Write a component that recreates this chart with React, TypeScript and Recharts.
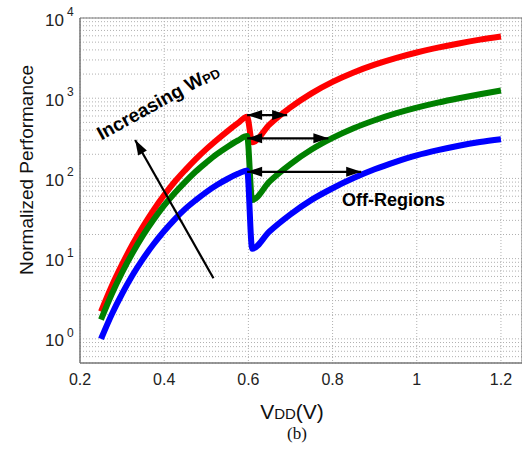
import React from 'react';
import { LineChart, Line, XAxis, YAxis, CartesianGrid, ReferenceLine, ReferenceDot, ReferenceArea } from 'recharts';

// V_DD sample points (V): before and after the off-region drop near 0.6 V
const vddPre = [0.25, 0.275, 0.3, 0.325, 0.35, 0.375, 0.4, 0.425, 0.45, 0.475, 0.5, 0.525, 0.55, 0.575, 0.597];
const vddPost = [0.609, 0.65, 0.7, 0.75, 0.8, 0.85, 0.9, 0.95, 1.0, 1.05, 1.1, 1.15, 1.2];

// Normalized performance (largest W_PD = red, middle = green, smallest = blue)
const redPre = [2.19, 4.5, 8.47, 15.1, 25.3, 40.6, 62.1, 90.8, 127, 174, 232, 302, 387, 488, 589];
const redPost = [282, 469, 769, 1151, 1598, 2094, 2618, 3162, 3715, 4266, 4819, 5370, 5888];
const greenPre = [1.74, 3.57, 6.72, 11.8, 19.6, 30.7, 46.0, 65.7, 90.7, 122, 158, 201, 247, 297, 337];
const greenPost = [53.7, 91.2, 151, 229, 320, 422, 531, 646, 763, 881, 1000, 1122, 1245];
const bluePre = [1.0, 2.0, 3.65, 6.24, 10.0, 15.2, 22.1, 30.9, 41.7, 53.7, 67.6, 82.7, 98.3, 114, 126];
const bluePost = [13.3, 21.8, 35.7, 54.1, 75.5, 101, 130, 161, 194, 225, 256, 284, 308];

const xTicks = [0.2, 0.4, 0.6, 0.8, 1, 1.2];
const xTickLabels = ['0.2', '0.4', '0.6', '0.8', '1', '1.2'];
const yTicks = [
  0.5, 0.6, 0.7, 0.8, 0.9,
  1, 2, 3, 4, 5, 6, 7, 8, 9,
  10, 20, 30, 40, 50, 60, 70, 80, 90,
  100, 200, 300, 400, 500, 600, 700, 800, 900,
  1000, 2000, 3000, 4000, 5000, 6000, 7000, 8000, 9000,
  10000,
];

// Off-region double arrows: [level, start V, end V]
const offArrows = [
  [617, 0.597, 0.692],
  [316, 0.597, 0.79],
  [121, 0.597, 0.868],
];
// "Increasing W_PD" arrow: tail -> head
const incArrow = [[0.517, 5.7], [0.331, 302]];

const mk = (xs: number[], ys: number[]) => xs.map((x, i) => ({ x, y: ys[i] }));
const redData = [...mk(vddPre, redPre), ...mk(vddPost, redPost)];
const greenData = [...mk(vddPre, greenPre), ...mk(vddPost, greenPost)];
const blueData = [...mk(vddPre, bluePre), ...mk(vddPost, bluePost)];

const FONT = "Arial, 'Liberation Sans', Helvetica, sans-serif";

const head = (x: number, y: number, a: number, L = 15, W = 5) => {
  const bx = x - L * Math.cos(a);
  const by = y - L * Math.sin(a);
  return `${x},${y} ${bx + W * Math.sin(a)},${by - W * Math.cos(a)} ${bx - W * Math.sin(a)},${by + W * Math.cos(a)}`;
};

const arrowShape = (both: boolean) => (p: any) => {
  const { x1, y1, x2, y2 } = p;
  const a = Math.atan2(y2 - y1, x2 - x1);
  return (
    <g>
      <line x1={x1} y1={y1} x2={x2} y2={y2} stroke="#000" strokeWidth={2.2} />
      <polygon points={head(x2, y2, a)} fill="#000" />
      {both && <polygon points={head(x1, y1, a + Math.PI)} fill="#000" />}
    </g>
  );
};

const YTick = (props: any) => {
  const { y, payload } = props;
  const v = payload.value;
  const e = Math.log10(v);
  if (Math.abs(e - Math.round(e)) > 1e-6) return <g />;
  return (
    <text x={45} y={y + 7.5} fontSize={17} fill="#222" fontFamily={FONT}>
      10
      <tspan dx={3} dy={-9.5} fontSize={12}>{Math.round(e)}</tspan>
    </text>
  );
};

const XTick = (props: any) => {
  const { x, payload } = props;
  const i = xTicks.indexOf(payload.value);
  return (
    <text x={x} y={385} textAnchor="middle" fontSize={16} fill="#222" fontFamily={FONT}>
      {xTickLabels[i]}
    </text>
  );
};

const incText = (p: any) => (
  <text
    transform={`translate(${p.cx},${p.cy}) rotate(-29)`}
    textAnchor="middle"
    dominantBaseline="central"
    fontSize={19}
    fontWeight="bold"
    fontFamily={FONT}
    fill="#000"
  >
    Increasing W<tspan fontSize={13} dy={3}>PD</tspan>
  </text>
);

const offText = (p: any) => (
  <text x={p.cx} y={p.cy} textAnchor="middle" dominantBaseline="central" fontSize={18} fontWeight="bold" fontFamily={FONT} fill="#000">
    Off-Regions
  </text>
);

export default function App() {
  return (
    <div style={{ position: 'absolute', left: 0, top: 0, width: 522, height: 453, background: '#fff' }}>
      <LineChart width={522} height={453} margin={{ top: 18, right: 0, left: 0, bottom: 0 }}>
        <CartesianGrid stroke="#b0b0b0" strokeDasharray="1 2" />
        <XAxis
          type="number"
          dataKey="x"
          domain={[0.2, 1.25]}
          ticks={xTicks}
          allowDataOverflow
          height={90}
          axisLine={{ stroke: '#777' }}
          tickLine={false}
          tick={<XTick />}
          interval={0}
          label={{
            content: () => (
              <g>
                <text x={292} y={419} textAnchor="middle" fontSize={21} fill="#111" fontFamily={FONT}>
                  V<tspan fontSize={15}>DD</tspan>(V)
                </text>
                <text x={297} y={439} textAnchor="middle" fontSize={17} fill="#111" fontFamily="'Liberation Serif', 'Times New Roman', serif">
                  (b)
                </text>
              </g>
            ),
          }}
        />
        <YAxis
          type="number"
          dataKey="y"
          scale="log"
          domain={[0.5, 10000]}
          ticks={yTicks}
          allowDataOverflow
          width={80}
          axisLine={{ stroke: '#777' }}
          tickLine={false}
          tick={<YTick />}
          interval={0}
          label={{
            content: () => (
              <text transform="translate(26,170) rotate(-90)" textAnchor="middle" dominantBaseline="central" fontSize={19} fill="#111" fontFamily={FONT}>
                Normalized Performance
              </text>
            ),
          }}
        />
        <ReferenceArea x1={0.2} x2={1.25} y1={0.5} y2={10000} fill="none" stroke="#777" strokeWidth={1} ifOverflow="visible" />
        <Line data={redData} dataKey="y" type="monotone" stroke="#ff0000" strokeWidth={6} dot={false} isAnimationActive={false} strokeLinejoin="round" />
        <Line data={greenData} dataKey="y" type="monotone" stroke="#008000" strokeWidth={6} dot={false} isAnimationActive={false} strokeLinejoin="round" />
        <Line data={blueData} dataKey="y" type="monotone" stroke="#0000ff" strokeWidth={6} dot={false} isAnimationActive={false} strokeLinejoin="round" />
        {offArrows.map((a, i) => (
          <ReferenceLine
            key={i}
            segment={[{ x: a[1], y: a[0] }, { x: a[2], y: a[0] }]}
            shape={arrowShape(true)}
            ifOverflow="visible"
          />
        ))}
        <ReferenceLine
          segment={[{ x: incArrow[0][0], y: incArrow[0][1] }, { x: incArrow[1][0], y: incArrow[1][1] }]}
          shape={arrowShape(false)}
          ifOverflow="visible"
        />
        <ReferenceDot x={0.385} y={900} shape={incText} ifOverflow="visible" />
        <ReferenceDot x={0.945} y={54} shape={offText} ifOverflow="visible" />
      </LineChart>
    </div>
  );
}
